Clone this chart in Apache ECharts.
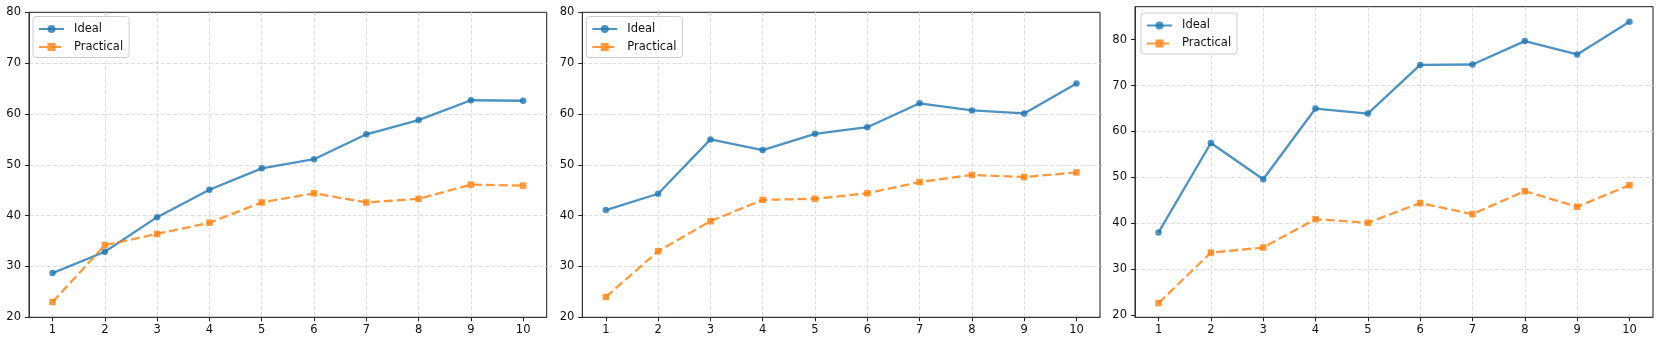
<!DOCTYPE html>
<html>
<head>
<meta charset="utf-8">
<script src="https://cdn.jsdelivr.net/npm/echarts@6/dist/echarts.min.js"></script>
<style>
html,body{margin:0;padding:0;background:#fff;}
#chart{width:1660px;height:344px;}
</style>
</head>
<body>
<div id="chart"></div>
<script>
const categories = [1, 2, 3, 4, 5, 6, 7, 8, 9, 10];
const yTickLabels = [20, 30, 40, 50, 60, 70, 80];
const seriesNames = ['Ideal', 'Practical'];

const ideal1 = [28.7, 32.9, 39.7, 45.1, 49.3, 51.1, 56.0, 58.8, 62.7, 62.6];
const practical1 = [23.0, 34.2, 36.4, 38.6, 42.6, 44.4, 42.6, 43.3, 46.1, 45.9];

const ideal2 = [41.1, 44.3, 55.0, 52.9, 56.1, 57.4, 62.1, 60.7, 60.1, 66.0];
const practical2 = [24.0, 33.0, 38.9, 43.1, 43.3, 44.4, 46.6, 48.0, 47.6, 48.5];

const ideal3 = [38.0, 57.5, 49.6, 65.0, 63.9, 74.5, 74.6, 79.7, 76.8, 83.9];
const practical3 = [22.6, 33.6, 34.7, 40.9, 40.1, 44.4, 42.0, 47.0, 43.6, 48.3];

const FONT = 'DejaVu Sans';
const BLUE = '#1f77b4';
const ORANGE = '#ff7f0e';

const panels = [
  { left: 29, top: 12.3, width: 517.7, height: 305, ymin: 20, ymax: 80, ideal: ideal1, practical: practical1, legendLeft: 33, legendTop: 16.5 },
  { left: 582.3, top: 12.3, width: 517.7, height: 305, ymin: 20, ymax: 80, ideal: ideal2, practical: practical2, legendLeft: 586.3, legendTop: 16.5 },
  { left: 1135, top: 6.7, width: 518, height: 310.6, ymin: 19.5, ymax: 87.2, ideal: ideal3, practical: practical3, legendLeft: 1141, legendTop: 13 }
];

const grids = [], xAxes = [], yAxes = [], series = [], legends = [];
const gridLine = { show: true, showMinLine: false, showMaxLine: false, lineStyle: { color: '#dedede', width: 1, type: [4, 2] } };

panels.forEach((p, i) => {
  grids.push({ left: p.left, top: p.top, width: p.width, height: p.height, show: true, borderColor: '#1a1a1a', borderWidth: 1, backgroundColor: 'transparent' });
  xAxes.push({
    type: 'value', gridIndex: i, min: 0.55, max: 10.45,
    axisLine: { show: true, lineStyle: { color: '#333', width: 1 } },
    axisTick: { show: true, inside: false, length: 4, customValues: categories, lineStyle: { color: '#222' } },
    axisLabel: { customValues: categories, margin: 7, fontFamily: FONT, fontSize: 11.5, color: '#111' },
    splitLine: gridLine
  });
  yAxes.push({
    type: 'value', gridIndex: i, min: p.ymin, max: p.ymax,
    axisLine: { show: true, lineStyle: { color: '#333', width: 1 } },
    axisTick: { show: true, inside: false, length: 4, customValues: yTickLabels, lineStyle: { color: '#222' } },
    axisLabel: { customValues: yTickLabels, margin: 8, fontFamily: FONT, fontSize: 11.5, color: '#111' },
    splitLine: gridLine
  });
  series.push({
    name: seriesNames[0], type: 'line', xAxisIndex: i, yAxisIndex: i,
    data: categories.map((c, k) => [c, p.ideal[k]]),
    symbol: 'circle', symbolSize: 6.5,
    lineStyle: { color: BLUE, width: 2.3, opacity: 0.8 },
    itemStyle: { color: BLUE, opacity: 0.8 },
    animation: false, z: 3
  });
  series.push({
    name: seriesNames[1], type: 'line', xAxisIndex: i, yAxisIndex: i,
    data: categories.map((c, k) => [c, p.practical[k]]),
    symbol: 'rect', symbolSize: 6.5,
    lineStyle: { color: ORANGE, width: 2.3, opacity: 0.8, type: [9, 4] },
    itemStyle: { color: ORANGE, opacity: 0.8 },
    animation: false, z: 3
  });
  legends.push({
    data: seriesNames, orient: 'vertical', left: p.legendLeft, top: p.legendTop,
    itemWidth: 25, itemHeight: 10, itemGap: 5,
    padding: [6, 6, 4, 5],
    backgroundColor: 'rgba(255,255,255,0.8)', borderColor: '#cccccc', borderWidth: 1, borderRadius: 3,
    textStyle: { fontFamily: FONT, fontSize: 11.5, color: '#111', padding: [0, 0, 0, 5], lineHeight: 13 }
  });
});

const chart = echarts.init(document.getElementById('chart'), null, { renderer: 'canvas' });
chart.setOption({
  animation: false,
  backgroundColor: '#fff',
  grid: grids, xAxis: xAxes, yAxis: yAxes, series: series, legend: legends
});
</script>
</body>
</html>
